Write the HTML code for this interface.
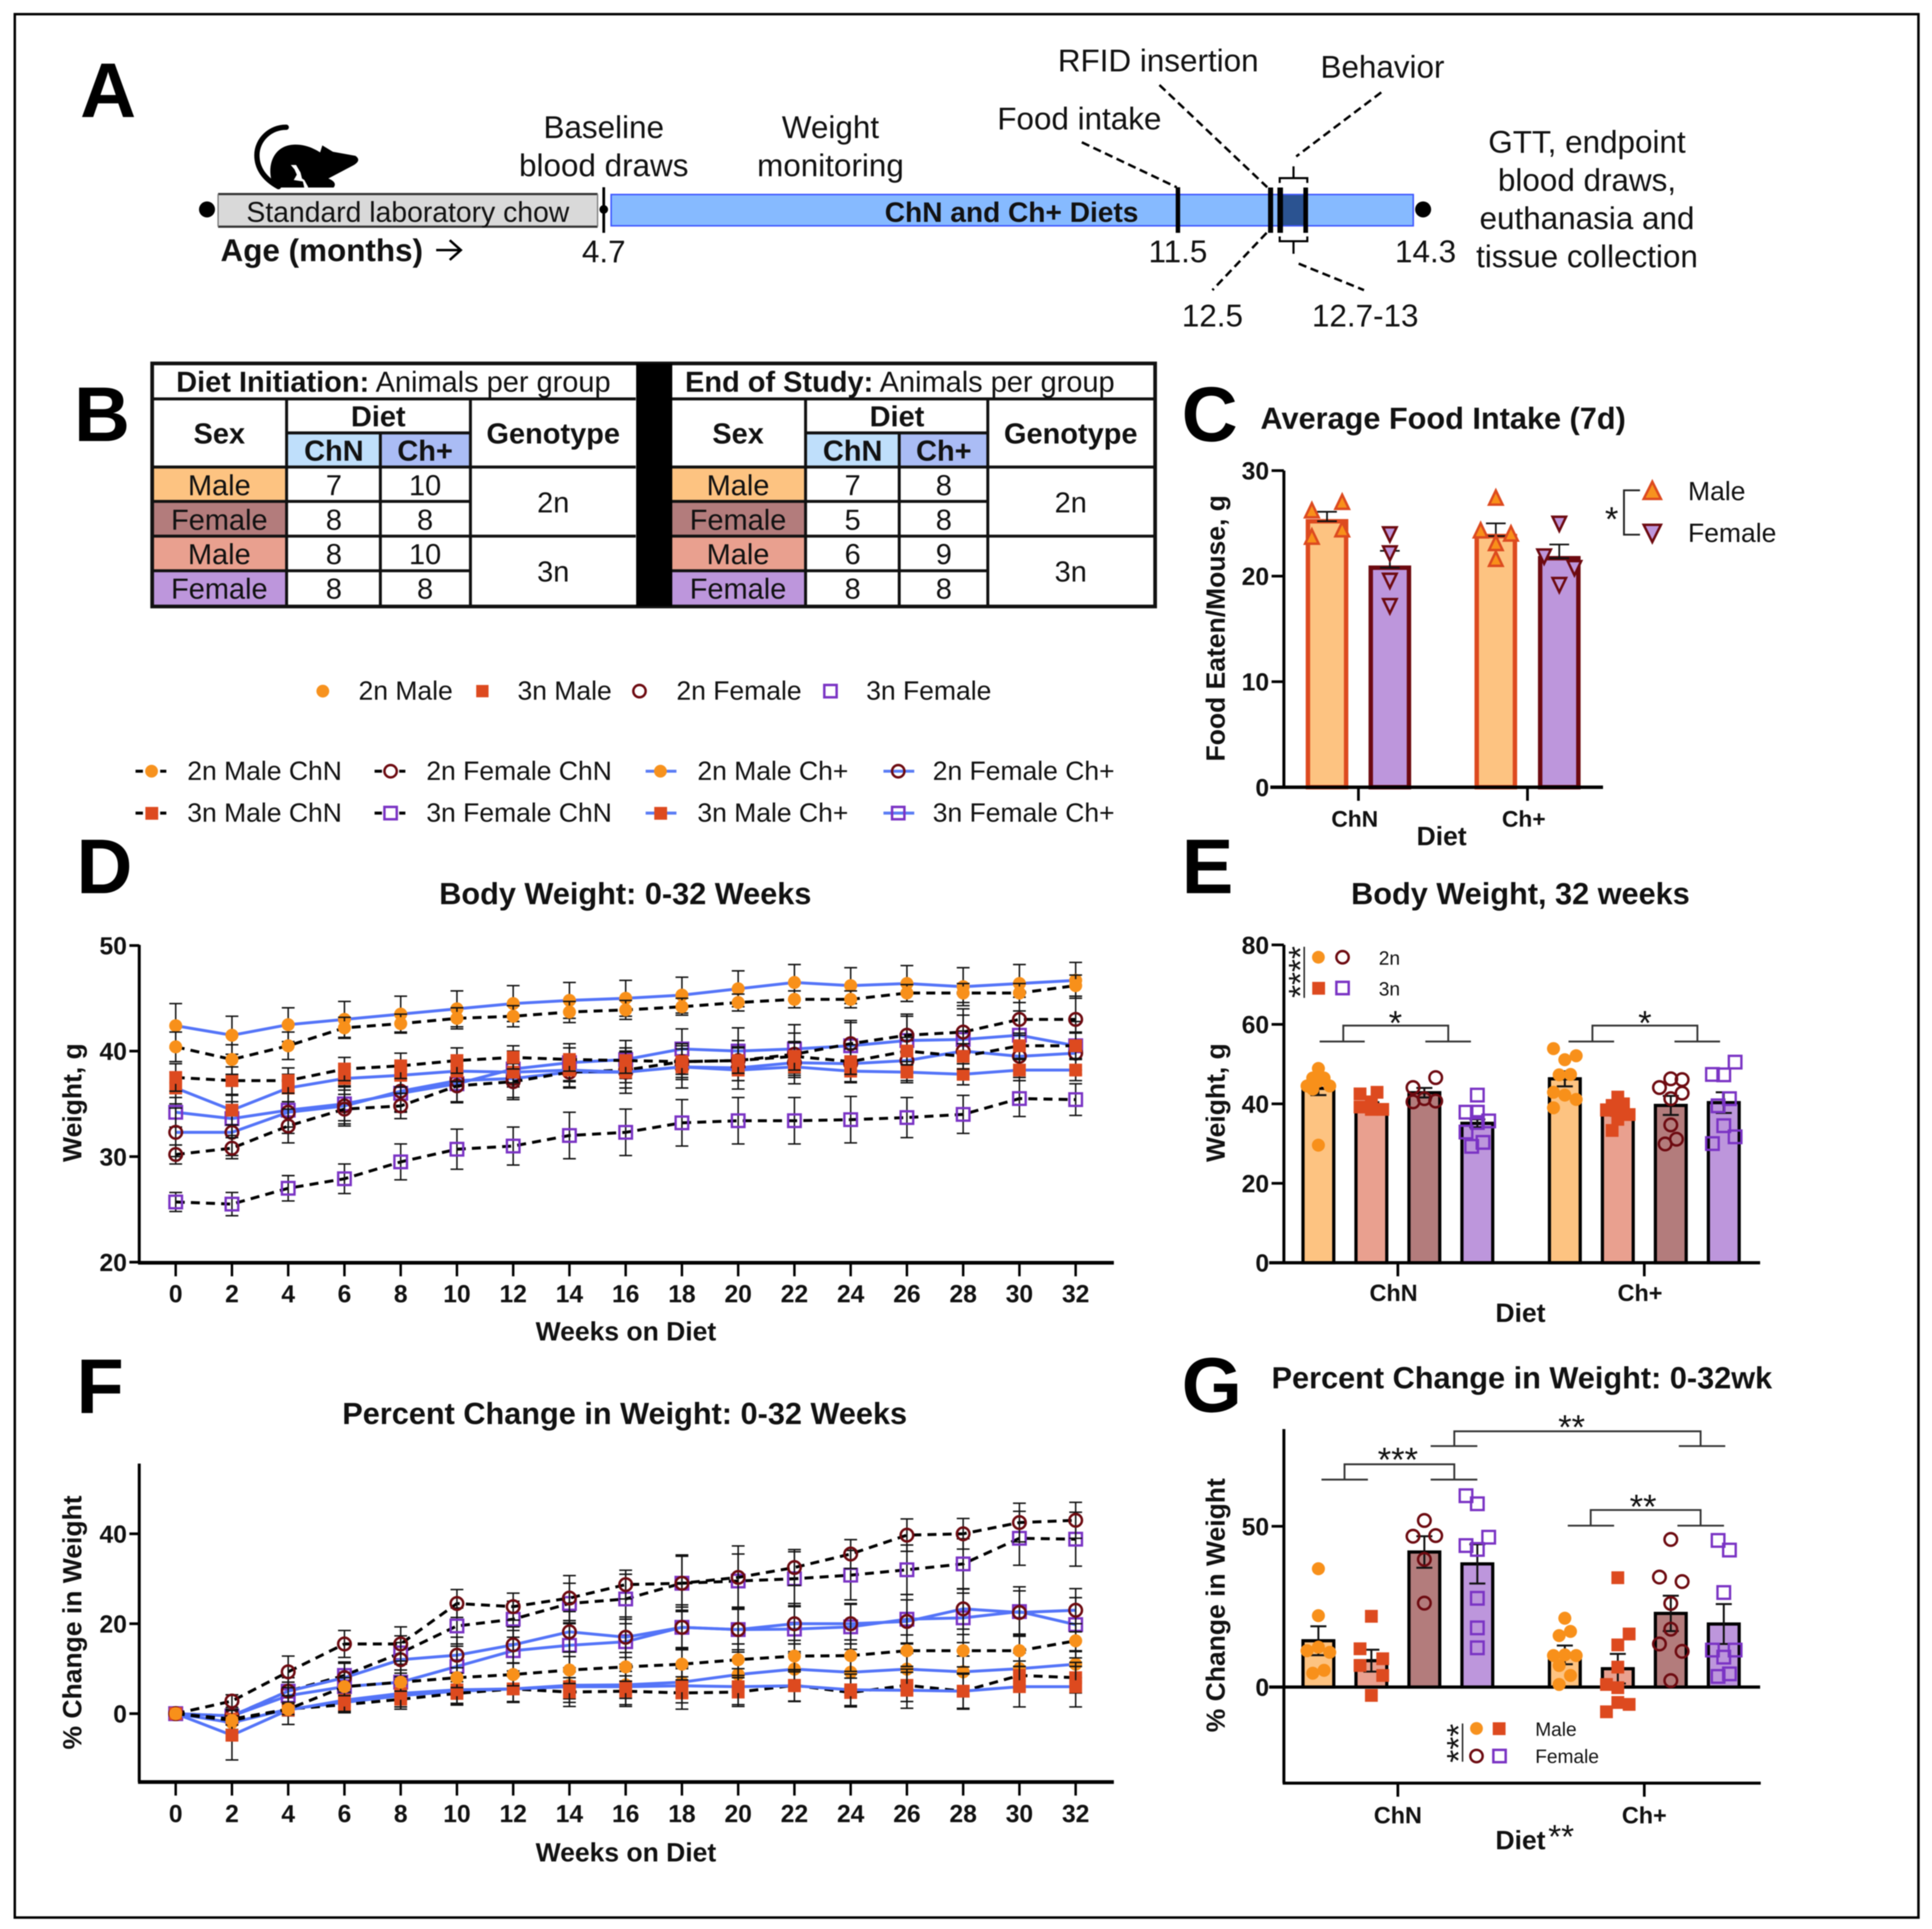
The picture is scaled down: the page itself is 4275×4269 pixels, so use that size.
<!DOCTYPE html>
<html lang="en">
<head>
<meta charset="utf-8">
<title>Diet study figure</title>
<style>
html,body{margin:0;padding:0;background:#fff;width:4275px;height:4269px;overflow:hidden}
svg{display:block;font-family:"Liberation Sans",sans-serif;fill:#111;filter:blur(1px)}
.b{font-weight:bold}
.m{text-anchor:middle}
.e{text-anchor:end}
</style>
</head>
<body>
<svg id="fig" xmlns="http://www.w3.org/2000/svg" width="4275" height="4269" viewBox="0 0 1568 1565.8">
<rect x="0" y="0" width="1568" height="1565.8" fill="#fff"/>
<rect x="12" y="11.5" width="1545" height="1545" fill="none" stroke="#000" stroke-width="2"/>

<!-- Panel letters -->
<g class="b" font-size="63" fill="#000">
<text x="65" y="95">A</text>
<text x="60" y="358">B</text>
<text x="959" y="358">C</text>
<text x="62" y="725">D</text>
<text x="959" y="725">E</text>
<text x="62" y="1147">F</text>
<text x="959" y="1146">G</text>
</g>

<!-- Panel A timeline -->
<g>
<g fill="#000">
<path d="M232.3 103.3 C220 103 208.5 113 208.5 126 C208.5 136 214 145 226 151.5" fill="none" stroke="#000" stroke-width="4.3" stroke-linecap="round"/>
<path d="M220.1 145.5 C217 131 224 118 238.4 117.4 C247 117 254 120 259.8 123.7 L261.6 118 L270.2 123.2 L288.5 126.5 Q293.5 130 287.3 133.9 L266.5 144.9 Q274 148 270.8 152.2 L226.2 152.2 Z"/>
<path d="M236 133.9 L240.3 133.9 L243.9 140 L245.1 144.9 L247 146.1 L250 151.6 L250 152.5 L247 152.5 L245.8 147.3 L238.4 146.1 L240.9 141.8 L239 137.5 Z" fill="#fff"/>
</g>
<circle cx="168" cy="170" r="6.5" fill="#000"/>
<circle cx="1155" cy="170" r="6.5" fill="#000"/>
<rect x="177" y="157.5" width="308" height="26.5" fill="#d9d9d9"/>
<path d="M177 157.5 H485 M177 184 H485" stroke="#333" stroke-width="1.8" fill="none"/>
<path d="M177 157.5 V184 M485 157.5 V184" stroke="#777" stroke-width="1" fill="none"/>
<rect x="496" y="157.9" width="651" height="25.4" fill="#86baff" stroke="#3d55ff" stroke-width="1.2"/>
<rect x="1041" y="158.4" width="17" height="24.4" fill="#2b5391"/>
<circle cx="490" cy="170" r="3.5" fill="#000"/>
<g stroke="#000" fill="none">
<line x1="490" y1="152" x2="490" y2="189" stroke-width="2.2"/>
<line x1="956" y1="152" x2="956" y2="189" stroke-width="3.6"/>
<line x1="1031.2" y1="152.2" x2="1031.2" y2="189" stroke-width="4.1"/>
<line x1="1039" y1="152.2" x2="1039" y2="189" stroke-width="4.5"/>
<line x1="1059.7" y1="152.2" x2="1059.7" y2="189" stroke-width="3.8"/>
<path d="M1038.6 148.5 V144.6 H1061 V148.5 M1049.8 144.6 V135" stroke-width="1.7"/>
<path d="M1038.6 191.9 V195.8 H1061 V191.9 M1049.8 195.8 V206" stroke-width="1.7"/>
</g>
<g stroke="#000" stroke-width="2" stroke-dasharray="6.7 3.7" fill="none">
<line x1="878" y1="115.5" x2="955" y2="152"/>
<line x1="941" y1="69" x2="1028.5" y2="152"/>
<line x1="1121" y1="75" x2="1052" y2="127"/>
<line x1="1028" y1="189" x2="984" y2="235.5"/>
<line x1="1054" y1="214" x2="1107" y2="235.5"/>
</g>
<g font-size="25.5">
<text class="m" x="490" y="112">Baseline</text>
<text class="m" x="490" y="143">blood draws</text>
<text class="m" x="674" y="112">Weight</text>
<text class="m" x="674" y="143">monitoring</text>
<text class="m" x="876" y="105">Food intake</text>
<text class="m" x="940" y="58">RFID insertion</text>
<text class="m" x="1122" y="63">Behavior</text>
<text class="m" x="1288" y="124">GTT, endpoint</text>
<text class="m" x="1288" y="155">blood draws,</text>
<text class="m" x="1288" y="186">euthanasia and</text>
<text class="m" x="1288" y="217">tissue collection</text>
<text class="m" x="490" y="213">4.7</text>
<text class="m" x="956" y="213">11.5</text>
<text class="m" x="1157" y="213">14.3</text>
<text class="m" x="984" y="265">12.5</text>
<text class="m" x="1108" y="265">12.7-13</text>
<text class="b" x="179" y="212">Age (months)</text>
</g>
<path d="M354 203 H373 M365 195 L374 203 L365 211" fill="none" stroke="#000" stroke-width="2"/>
<text class="m" font-size="23" x="331" y="180">Standard laboratory chow</text>
<text class="m b" font-size="22.8" x="821" y="180">ChN and Ch+ Diets</text>
</g>

<!-- Panel B tables -->
<g font-size="23.5">
<rect x="123.5" y="295" width="814" height="197" fill="#fff"/>
<g>
<rect x="124" y="379" width="109" height="28" fill="#fdc381"/>
<rect x="124" y="407" width="109" height="28" fill="#b37c7c"/>
<rect x="124" y="435" width="109" height="28" fill="#e9a08f"/>
<rect x="124" y="463" width="109" height="29" fill="#bd96dc"/>
<rect x="233" y="351" width="76" height="28" fill="#bfdffb"/>
<rect x="309" y="351" width="73" height="28" fill="#aabcf5"/>
<rect x="545" y="379" width="109" height="28" fill="#fdc381"/>
<rect x="545" y="407" width="109" height="28" fill="#b37c7c"/>
<rect x="545" y="435" width="109" height="28" fill="#e9a08f"/>
<rect x="545" y="463" width="109" height="29" fill="#bd96dc"/>
<rect x="654" y="351" width="76" height="28" fill="#bfdffb"/>
<rect x="730" y="351" width="72" height="28" fill="#aabcf5"/>
</g>
<g stroke="#111" stroke-width="2.4" fill="none">
<rect x="123.5" y="295" width="814" height="197.3" stroke-width="3"/>
<path d="M123.5 323.8 H516 M232.6 323.8 V492 M308.7 351.4 V492 M381.8 323.8 V492 M232.6 351.4 H381.8 M123.5 379.1 H516 M232.6 407 H381.8 M123.5 407 H232.6 M123.5 435.2 H516 M123.5 463.3 H381.8"/>
<path d="M545.6 323.8 H937.4 M653.8 323.8 V492 M729.8 351.4 V492 M801.7 323.8 V492 M653.8 351.4 H801.7 M545.6 379.1 H937.4 M545.6 407 H801.7 M545.6 435.2 H937.4 M545.6 463.3 H801.7"/>
</g>
<rect x="516.3" y="295" width="29.3" height="197" fill="#000"/>
<text x="143" y="318"><tspan class="b">Diet Initiation:</tspan> Animals per group</text>
<text x="556" y="318"><tspan class="b">End of Study:</tspan> Animals per group</text>
<g class="b m">
<text x="178" y="360">Sex</text>
<text x="307" y="346">Diet</text>
<text x="271" y="374">ChN</text>
<text x="345" y="374">Ch+</text>
<text x="449" y="360">Genotype</text>
<text x="599" y="360">Sex</text>
<text x="728" y="346">Diet</text>
<text x="692" y="374">ChN</text>
<text x="766" y="374">Ch+</text>
<text x="869" y="360">Genotype</text>
</g>
<g class="m">
<text x="178" y="402">Male</text><text x="178" y="430">Female</text><text x="178" y="458">Male</text><text x="178" y="486">Female</text>
<text x="271" y="402">7</text><text x="345" y="402">10</text>
<text x="271" y="430">8</text><text x="345" y="430">8</text>
<text x="271" y="458">8</text><text x="345" y="458">10</text>
<text x="271" y="486">8</text><text x="345" y="486">8</text>
<text x="449" y="416">2n</text><text x="449" y="472">3n</text>
<text x="599" y="402">Male</text><text x="599" y="430">Female</text><text x="599" y="458">Male</text><text x="599" y="486">Female</text>
<text x="692" y="402">7</text><text x="766" y="402">8</text>
<text x="692" y="430">5</text><text x="766" y="430">8</text>
<text x="692" y="458">6</text><text x="766" y="458">9</text>
<text x="692" y="486">8</text><text x="766" y="486">8</text>
<text x="869" y="416">2n</text><text x="869" y="472">3n</text>
</g>
</g>

<!-- Legends -->
<g font-size="21.5">
<circle cx="262" cy="561" r="5.2" fill="#f7921e"/>
<text x="291" y="568">2n Male</text>
<rect x="386.5" y="556" width="10" height="10" fill="#dd4a1f"/>
<text x="420" y="568">3n Male</text>
<circle cx="519" cy="561" r="5" fill="none" stroke="#6d0a10" stroke-width="2"/>
<text x="549" y="568">2n Female</text>
<rect x="669" y="556" width="10" height="10" fill="none" stroke="#7a33c4" stroke-width="2"/>
<text x="703" y="568">3n Female</text>
</g>
<g font-size="21.5">
<text x="152" y="633">2n Male ChN</text>
<text x="346" y="633">2n Female ChN</text>
<text x="566" y="633">2n Male Ch+</text>
<text x="757" y="633">2n Female Ch+</text>
<text x="152" y="667">3n Male ChN</text>
<text x="346" y="667">3n Female ChN</text>
<text x="566" y="667">3n Male Ch+</text>
<text x="757" y="667">3n Female Ch+</text>
<g stroke="#000" stroke-width="2.4" fill="none">
<path d="M110 626 H116 M130 626 H135 M304 626 H310 M324 626 H329"/>
<path d="M110 660 H116 M130 660 H135 M304 660 H310 M324 660 H329"/>
</g>
<g stroke="#5a7cf5" stroke-width="2.4" fill="none">
<path d="M524 626 H549 M717 626 H742"/>
<path d="M524 660 H549 M717 660 H742"/>
</g>
<circle cx="123" cy="626" r="5.2" fill="#f7921e"/>
<rect x="118" y="655" width="10.4" height="10.4" fill="#dd4a1f"/>
<circle cx="317" cy="626" r="5" fill="none" stroke="#6d0a10" stroke-width="2"/>
<rect x="312" y="655" width="10" height="10" fill="none" stroke="#7a33c4" stroke-width="2"/>
<circle cx="536" cy="626" r="5.2" fill="#f7921e"/>
<rect x="531" y="655" width="10.4" height="10.4" fill="#dd4a1f"/>
<circle cx="729" cy="626" r="5" fill="none" stroke="#6d0a10" stroke-width="2"/>
<rect x="724" y="655" width="10" height="10" fill="none" stroke="#7a33c4" stroke-width="2"/>
</g>

<!-- Titles and axis labels -->
<g class="b" font-size="24.9">
<text x="1023" y="348">Average Food Intake (7d)</text>
<text class="m" x="507.5" y="734">Body Weight: 0-32 Weeks</text>
<text class="m" x="1234" y="734">Body Weight, 32 weeks</text>
<text class="m" x="507" y="1156">Percent Change in Weight: 0-32 Weeks</text>
<text x="1032" y="1127">Percent Change in Weight: 0-32wk</text>
</g>
<g class="b m" font-size="21.5">
<text transform="translate(994,510) rotate(-90)">Food Eaten/Mouse, g</text>
<text transform="translate(66,895) rotate(-90)">Weight, g</text>
<text transform="translate(994,895) rotate(-90)">Weight, g</text>
<text transform="translate(66,1317) rotate(-90)">% Change in Weight</text>
<text transform="translate(994,1303) rotate(-90)">% Change in Weight</text>
<text x="508" y="1088">Weeks on Diet</text>
<text x="508" y="1511">Weeks on Diet</text>
<text x="1170" y="686">Diet</text>
<text x="1234" y="1073">Diet</text>
<text x="1234" y="1501">Diet</text>
</g>
<text class="m" font-size="27" x="1267" y="1500">**</text>

<!-- Panel C annotations -->
<g font-size="21.5">
<path d="M1331 398 H1318 V434 H1331" fill="none" stroke="#222" stroke-width="1.5"/>
<text class="m" font-size="28" x="1308" y="431">*</text>
<path d="M1341 391 L1348 405 H1334 Z" fill="#f7921e" stroke="#dd4a1f" stroke-width="2"/>
<path d="M1341 440 L1348 426 H1334 Z" fill="#bd96dc" stroke="#6d0a10" stroke-width="2"/>
<text x="1370" y="406">Male</text>
<text x="1370" y="440">Female</text>
</g>
<g id="chart-c"></g>
<g id="chart-d"></g>
<g id="chart-e"></g>
<g id="chart-f"></g>
<g id="chart-g"></g>

<!-- Panel E annotations -->
<g>
<path d="M1071 845.4 H1107.6 M1156.8 845.4 H1193.8 M1090.2 845.4 V832.5 H1175.4 V845.4" fill="none" stroke="#333" stroke-width="1.5"/>
<path d="M1273 845.4 H1310 M1359 845.4 H1396 M1292.4 845.4 V832.5 H1377.6 V845.4" fill="none" stroke="#333" stroke-width="1.5"/>
<text class="m" font-size="28" x="1132.5" y="840">*</text>
<text class="m" font-size="28" x="1335" y="840">*</text>
<text class="m" font-size="27" transform="translate(1064.5,789) rotate(-90)">****</text>
<line x1="1058.5" y1="768.5" x2="1058.5" y2="810" stroke="#222" stroke-width="1.2"/>
<circle cx="1070" cy="777" r="5.2" fill="#f7921e"/>
<circle cx="1089.6" cy="777" r="5" fill="none" stroke="#6d0a10" stroke-width="2"/>
<rect x="1065" y="797" width="10.4" height="10.4" fill="#dd4a1f"/>
<rect x="1084.6" y="797" width="10" height="10" fill="none" stroke="#7a33c4" stroke-width="2"/>
<text font-size="15.5" x="1119" y="783">2n</text>
<text font-size="15.5" x="1119" y="808">3n</text>
</g>

<!-- Panel G annotations -->
<g>
<path d="M1161.1 1173.8 H1199 M1362.5 1173.8 H1400.2 M1180.3 1173.8 V1161.8 H1380.2 V1173.8" fill="none" stroke="#333" stroke-width="1.5"/>
<path d="M1072.5 1201 H1110.2 M1161.1 1201 H1199 M1091.2 1201 V1188.6 H1180.3 V1201" fill="none" stroke="#333" stroke-width="1.5"/>
<path d="M1272.4 1238.4 H1310 M1361.4 1238.4 H1399.2 M1291 1238.4 V1225.7 H1380.2 V1238.4" fill="none" stroke="#333" stroke-width="1.5"/>
<text class="m" font-size="28" x="1275.5" y="1168">**</text>
<text class="m" font-size="28" x="1134.5" y="1194.5">***</text>
<text class="m" font-size="28" x="1333.5" y="1232.5">**</text>
<text class="m" font-size="27" transform="translate(1193,1415) rotate(-90)">***</text>
<line x1="1187" y1="1399" x2="1187" y2="1430" stroke="#222" stroke-width="1.2"/>
<circle cx="1198.3" cy="1403" r="5.2" fill="#f7921e"/>
<rect x="1211.5" y="1398" width="10.4" height="10.4" fill="#dd4a1f"/>
<circle cx="1198.3" cy="1425.4" r="5" fill="none" stroke="#6d0a10" stroke-width="2"/>
<rect x="1212" y="1420.4" width="10" height="10" fill="none" stroke="#7a33c4" stroke-width="2"/>
<text font-size="15.5" x="1246" y="1409">Male</text>
<text font-size="15.5" x="1246" y="1431">Female</text>
</g>
</svg>

<script>
// ===== Panel D / F shared categories =====
const weekTicks = [0,2,4,6,8,10,12,14,16,18,20,22,24,26,28,30,32];

// ===== Panel D: Body weight means =====
const weightTicks = [20,30,40,50];
const w2nMaleChN   = [40.4,39.2,40.5,42.2,42.6,43.1,43.3,43.7,43.9,44.2,44.6,44.9,44.9,45.5,45.5,45.5,46.2];
const w2nFemaleChN = [30.2,30.8,32.9,34.5,34.8,36.7,37.1,38.0,38.2,39.0,39.1,39.7,40.7,41.5,41.8,43.0,43.0];
const w3nMaleChN   = [37.5,37.2,37.2,38.3,38.6,39.1,39.4,39.2,39.1,39.0,39.1,39.5,39.0,40.0,39.5,40.5,40.5];
const w3nFemaleChN = [25.7,25.5,27.0,27.9,29.5,30.7,31.0,32.0,32.3,33.2,33.4,33.4,33.5,33.7,34.0,35.5,35.4];
const w2nMaleCh    = [42.4,41.5,42.5,43.0,43.5,44.0,44.5,44.8,45.0,45.3,45.9,46.5,46.2,46.4,46.1,46.4,46.7];
const w2nFemaleCh  = [32.3,32.3,34.2,34.8,36.2,37.2,37.4,38.0,38.0,38.5,38.4,38.9,38.8,39.1,40.0,39.5,39.8];
const w3nMaleCh    = [36.5,34.4,36.5,37.4,37.7,38.1,38.0,38.2,38.0,38.5,38.2,38.5,38.1,38.0,37.8,38.2,38.2];
const w3nFemaleCh  = [34.2,33.6,34.4,35.0,36.0,36.9,38.3,38.9,39.2,40.2,40.0,40.2,40.5,41.0,41.1,41.5,40.5];
// Panel D: standard errors
const e2nMaleChN   = [1.4,1.4,1.3,1.0,0.9,1.0,1.0,1.0,0.9,0.8,0.8,0.8,0.8,0.8,0.9,0.9,1.0];
const e2nFemaleChN = [0.9,1.0,1.6,1.4,1.2,1.6,1.7,1.4,1.7,1.7,1.9,2.0,2.0,2.0,2.2,2.1,2.2];
const e3nMaleChN   = [1.3,1.3,1.2,1.1,1.2,1.2,1.1,1.1,1.2,1.2,1.2,1.3,1.2,1.3,1.2,1.2,1.2];
const e3nFemaleChN = [0.9,1.1,1.2,1.4,1.7,1.9,1.8,2.2,2.2,2.2,2.2,2.2,2.2,1.9,1.8,1.7,1.5];
const e2nMaleCh    = [2.1,1.8,1.6,1.7,1.7,1.7,1.7,1.7,1.7,1.7,1.7,1.7,1.7,1.7,1.8,1.8,1.7];
const e2nFemaleCh  = [2.3,2.2,2.0,1.9,2.0,2.0,1.8,1.5,2.0,2.0,2.0,2.0,1.8,1.9,1.9,2.0,2.0];
const e3nMaleCh    = [1.5,1.4,1.3,1.1,1.1,1.0,1.0,1.0,1.0,1.0,1.0,1.0,1.0,1.0,1.0,1.0,1.0];
const e3nFemaleCh  = [1.4,1.6,1.6,1.6,1.7,1.7,1.7,1.8,1.8,1.9,2.2,2.3,2.4,2.3,2.3,2.3,2.3];

// ===== Panel F: Percent change means =====
const percentTicks = [0,20,40];
const p2nMaleChN   = [0,-1.5,1.0,6.0,7.0,8.0,8.7,9.7,10.4,11.0,12.0,12.8,12.9,14.0,14.0,14.0,16.2];
const p2nFemaleChN = [0,2.8,9.3,15.5,15.5,24.5,23.8,25.7,28.7,29.0,30.3,32.5,35.5,39.7,40.0,42.5,43.0];
const p3nMaleChN   = [0,-1.2,1.0,2.0,3.2,4.5,5.5,4.8,5.0,4.6,4.8,6.3,4.7,6.3,5.0,8.5,8.0];
const p3nFemaleChN = [0,-0.5,5.0,8.5,13.5,19.5,21.0,24.5,25.5,29.0,29.5,30.0,30.8,32.0,33.3,39.0,38.8];
const p2nMaleCh    = [0,-2.0,1.0,2.5,4.0,5.0,5.5,6.3,6.4,7.0,8.7,9.9,9.2,9.9,9.3,10.0,11.0];
const p2nFemaleCh  = [0,-0.5,5.0,8.0,12.0,13.0,15.3,18.2,17.0,19.2,18.7,20.0,20.0,20.5,23.3,22.5,23.0];
const p3nMaleCh    = [0,-4.8,0.8,3.0,4.5,5.3,5.5,6.0,6.0,6.2,6.0,6.2,5.3,5.2,5.0,6.0,6.0];
const p3nFemaleCh  = [0,-0.5,4.0,6.0,7.0,10.5,14.0,15.2,16.0,19.2,18.7,18.8,19.3,21.0,21.3,22.7,19.8];
// Panel F: standard errors
const pe2nMaleChN   = [0,1.0,1.2,2.0,2.0,2.2,2.5,3.0,3.2,3.5,3.5,3.5,3.5,3.5,3.6,3.5,3.8];
const pe2nFemaleChN = [0,1.4,3.5,3.0,3.8,3.1,3.0,5.0,3.2,6.3,7.0,4.0,3.2,3.6,3.4,4.3,4.0];
const pe3nMaleChN   = [0,1.2,1.5,1.8,2.2,2.6,2.8,3.2,3.4,3.6,3.2,3.5,3.2,3.6,3.8,3.2,3.4];
const pe3nFemaleChN = [0,1.2,3.0,3.0,3.8,4.0,4.0,4.5,5.5,6.0,6.0,6.0,5.5,5.5,5.6,6.0,6.0];
const pe2nMaleCh    = [0,1.5,1.5,1.8,2.5,3.0,3.0,3.0,3.0,3.4,3.5,3.5,3.5,3.5,3.5,3.5,3.0];
const pe2nFemaleCh  = [0,1.5,3.0,3.2,3.8,4.0,4.0,4.5,4.5,4.5,4.5,4.5,4.5,4.8,4.5,4.8,4.8];
const pe3nMaleCh    = [0,5.5,3.2,2.5,3.0,3.0,3.0,3.5,4.0,3.8,4.0,3.5,3.5,4.0,4.0,4.5,4.5];
const pe3nFemaleCh  = [0,1.5,3.0,3.2,4.0,4.5,4.5,5.0,5.0,5.0,5.0,5.0,5.0,5.5,5.5,5.5,6.0];

// ===== Panel C: Food intake =====
const foodTicks = [0,10,20,30];
const foodCategories = ['ChN','Ch+'];
const foodMeans = [25.2,20.8,23.8,21.7];
const foodErrors = [0.9,1.6,1.2,1.3];
const foodMaleChN = [26.1,26.9,23.6,24.3];
const foodMaleChNSlots = [-1,1,-1,1];
const foodFemaleChN = [24.1,22.3,19.7,17.3];
const foodFemaleChNSlots = [0,0,0,0];
const foodMaleCh = [27.3,24.2,23.9,23.0,21.5];
const foodMaleChSlots = [0,-1,1,0,0];
const foodFemaleCh = [25.1,22.0,20.9,19.3];
const foodFemaleChSlots = [0,-1,1,0];

// ===== Panel E: Body weight at 32 weeks =====
const e32Ticks = [0,20,40,60,80];
const e32Categories = ['ChN','Ch+'];
const e32Means = [43.9,39.6,42.8,35.1,46.3,38.0,39.6,40.3];
const e32Errors = [1.7,0.8,1.2,1.0,1.9,1.0,2.4,2.6];
const e32Points = [
  [48.9,46.5,46.5,45.7,44.5,44.5,43.7,29.6],
  [42.5,42.9,40.5,39.2,38.6,38.6],
  [46.6,44.1,41.3,40.5,40.7],
  [42.2,37.9,37.9,35.7,35.3,32.9,30.3,29.3],
  [53.9,51.1,52.1,47.3,47.4,42.9,42.2,41.1,39.0],
  [41.7,40.0,38.5,38.1,37.3,38.4,36.1,33.3,39.6],
  [46.3,46.1,44.1,42.7,41.3,34.7,31.1,29.9],
  [50.5,47.4,47.3,41.3,39.5,34.5,31.7,30.0]
];
const e32Slots = [
  [0,-1,1,0,-2,2,-1,0],
  [-2,1,0,-2,0,2],
  [2,-2,0,-2,2],
  [0,-2,0,2,0,-2,1,-1],
  [-2,0,2,-1,1,-2,0,2,-2],
  [0,1,-2,0,2,-2,0,-1,-1],
  [0,2,-2,2,0,0,1,-1],
  [2,-2,0,1,-1,0,2,-2]
];

// ===== Panel G: Percent change at 32 weeks =====
const g32Ticks = [0,50];
const g32Categories = ['ChN','Ch+'];
const g32Means = [14.4,8.2,42.0,38.3,10.0,5.7,22.9,19.6];
const g32Errors = [4.5,3.4,4.9,6.1,2.9,4.6,5.5,6.2];
const g32Points = [
  [36.8,22.2,11.3,12.4,10.8,4.3,5.2],
  [22.0,11.9,8.8,6.7,3.6,-2.6],
  [51.8,46.9,47.1,39.7,26.1],
  [59.5,57.0,44.0,46.6,42.8,27.6,18.4,12.2],
  [21.4,17.3,16.0,9.8,10.0,9.8,6.7,3.6,0.8],
  [34.0,16.5,13.1,6.2,0.8,-0.2,-4.8,-5.4,-7.7],
  [45.9,34.2,32.8,26.0,18.0,13.4,11.1,2.0],
  [45.6,42.6,29.4,11.5,11.5,9.3,4.1,3.3]
];
const g32Slots = [
  [0,0,-2,0,2,-1,1],
  [0,-2,2,-2,2,0],
  [0,-2,2,0,0],
  [-2,0,-2,2,0,0,0,0],
  [0,1,-1,-2,0,2,-1,1,-1],
  [0,2,0,0,-2,0,0,2,-2],
  [0,-2,2,0,0,-2,2,0],
  [-1,1,0,-2,2,0,1,-1]
];

const NS = 'http://www.w3.org/2000/svg';
const ORANGE = '#f8901a', RED = '#dd4a1f', MAROON = '#6d0a10', PURPLE = '#7a33c4';
const BLUE = '#5474f8';
const BAR_FILLS = ['#fdc381','#e9a08f','#b37c7c','#bd96dc'];
const SERIES_STYLE = {
  m2: {fill: ORANGE, stroke: 'none', shape: 'circle'},
  m3: {fill: RED, stroke: 'none', shape: 'square'},
  f2: {fill: 'none', stroke: MAROON, shape: 'circle'},
  f3: {fill: 'none', stroke: PURPLE, shape: 'square'}
};

function mk(parent, tag, name, attrs) {
  const el = document.createElementNS(NS, tag);
  
  
  for (const k in attrs) el.setAttribute(k, attrs[k]);
  parent.appendChild(el);
  return el;
}
function label(parent, name, str, x, y, size, bold, anchor) {
  const el = mk(parent, 'text', name, {x: x, y: y, 'font-size': size, 'text-anchor': anchor});
  if (bold) el.setAttribute('font-weight', 'bold');
  el.textContent = str;
  return el;
}
function linear(d0, d1, r0, r1) {
  return v => r0 + (v - d0) * (r1 - r0) / (d1 - d0);
}
function marker(parent, name, style, x, y) {
  if (style.shape === 'circle') {
    if (style.stroke === 'none') {
      return mk(parent, 'circle', name, {cx: x, cy: y, r: 5.3, fill: style.fill});
    }
    return mk(parent, 'circle', name, {cx: x, cy: y, r: 5.1, fill: 'none', stroke: style.stroke, 'stroke-width': 2});
  }
  if (style.stroke === 'none') {
    return mk(parent, 'rect', name, {x: x - 5.2, y: y - 5.2, width: 10.4, height: 10.4, fill: style.fill});
  }
  return mk(parent, 'rect', name, {x: x - 5.1, y: y - 5.1, width: 10.2, height: 10.2, fill: 'none', stroke: style.stroke, 'stroke-width': 1.9});
}
function errorBar(parent, name, x, y0, y1, cap, w) {
  return mk(parent, 'path', name, {
    d: 'M' + (x - cap) + ' ' + y0 + ' H' + (x + cap) + ' M' + (x - cap) + ' ' + y1 + ' H' + (x + cap) + ' M' + x + ' ' + y0 + ' V' + y1,
    fill: 'none', stroke: '#111', 'stroke-width': w
  });
}
function yAxis(g, y, ticks, axisX, topY, botY, tickLen, size) {
  mk(g, 'line', 'y-axis-line', {x1: axisX, y1: topY, x2: axisX, y2: botY, stroke: '#000', 'stroke-width': 2.4});
  ticks.forEach(t => {
    mk(g, 'line', 'y-axis-tick', {x1: axisX - tickLen, y1: y(t), x2: axisX, y2: y(t), stroke: '#000', 'stroke-width': 2.2});
    label(g, 'y-tick-label', String(t), axisX - tickLen - 2, y(t) + size * 0.36, size, true, 'end');
  });
}

function lineChart(id, series, weeks, ticks, yRange, pxRange, axisBottom, topY, labelY) {
  const g = document.getElementById(id);
  const x = linear(0, 32, 142.6, 873);
  const y = linear(yRange[0], yRange[1], pxRange[0], pxRange[1]);
  yAxis(g, y, ticks, 113, topY, axisBottom, 8, 20);
  mk(g, 'line', 'x-axis-line', {x1: 112, y1: axisBottom, x2: 904, y2: axisBottom, stroke: '#000', 'stroke-width': 3});
  weeks.forEach(w => {
    mk(g, 'line', 'x-axis-tick', {x1: x(w), y1: axisBottom, x2: x(w), y2: axisBottom + 11, stroke: '#000', 'stroke-width': 2});
    label(g, 'x-tick-label', String(w), x(w), labelY, 20, true, 'middle');
  });
  series.forEach(s => {
    const d = s.vals.map((v, i) => (i ? 'L' : 'M') + x(weeks[i]) + ' ' + y(v)).join(' ');
    const attrs = s.dashed
      ? {d: d, fill: 'none', stroke: '#000', 'stroke-width': 2.4, 'stroke-dasharray': '7.3 5'}
      : {d: d, fill: 'none', stroke: BLUE, 'stroke-width': 2.4};
    mk(g, 'path', 'line-' + s.name, attrs);
    s.vals.forEach((v, i) => {
      if (s.errs[i] > 0) errorBar(g, 'error-bar', x(weeks[i]), y(v - s.errs[i]), y(v + s.errs[i]), 5.2, 1.2);
    });
    s.vals.forEach((v, i) => {
      marker(g, 'point-' + s.name, SERIES_STYLE[s.kind], x(weeks[i]), y(v));
    });
  });
}

lineChart('chart-d', [
  {name: '3n-female-chplus', kind: 'f3', dashed: false, vals: w3nFemaleCh, errs: e3nFemaleCh},
  {name: '2n-female-chplus', kind: 'f2', dashed: false, vals: w2nFemaleCh, errs: e2nFemaleCh},
  {name: '3n-female-chn', kind: 'f3', dashed: true, vals: w3nFemaleChN, errs: e3nFemaleChN},
  {name: '2n-female-chn', kind: 'f2', dashed: true, vals: w2nFemaleChN, errs: e2nFemaleChN},
  {name: '2n-male-chplus', kind: 'm2', dashed: false, vals: w2nMaleCh, errs: e2nMaleCh},
  {name: '3n-male-chplus', kind: 'm3', dashed: false, vals: w3nMaleCh, errs: e3nMaleCh},
  {name: '3n-male-chn', kind: 'm3', dashed: true, vals: w3nMaleChN, errs: e3nMaleChN},
  {name: '2n-male-chn', kind: 'm2', dashed: true, vals: w2nMaleChN, errs: e2nMaleChN}
], weekTicks, weightTicks, [20, 50], [1024.5, 767.5], 1025, 767, 1057);

lineChart('chart-f', [
  {name: '3n-female-chplus', kind: 'f3', dashed: false, vals: p3nFemaleCh, errs: pe3nFemaleCh},
  {name: '3n-female-chn', kind: 'f3', dashed: true, vals: p3nFemaleChN, errs: pe3nFemaleChN},
  {name: '2n-female-chplus', kind: 'f2', dashed: false, vals: p2nFemaleCh, errs: pe2nFemaleCh},
  {name: '2n-female-chn', kind: 'f2', dashed: true, vals: p2nFemaleChN, errs: pe2nFemaleChN},
  {name: '2n-male-chplus', kind: 'm2', dashed: false, vals: p2nMaleCh, errs: pe2nMaleCh},
  {name: '3n-male-chn', kind: 'm3', dashed: true, vals: p3nMaleChN, errs: pe3nMaleChN},
  {name: '3n-male-chplus', kind: 'm3', dashed: false, vals: p3nMaleCh, errs: pe3nMaleCh},
  {name: '2n-male-chn', kind: 'm2', dashed: true, vals: p2nMaleChN, errs: pe2nMaleChN}
], weekTicks, percentTicks, [0, 40], [1391, 1245], 1446.5, 1188, 1479);

// Panel C
(function () {
  const g = document.getElementById('chart-c');
  const y = linear(0, 30, 639, 382);
  const centers = [1077, 1128, 1214, 1265.5];
  const fills = ['#fdc381', '#bd96dc', '#fdc381', '#bd96dc'];
  const strokes = [RED, MAROON, RED, MAROON];
  const sets = [
    [foodMaleChN, foodMaleChNSlots],
    [foodFemaleChN, foodFemaleChNSlots],
    [foodMaleCh, foodMaleChSlots],
    [foodFemaleCh, foodFemaleChSlots]
  ];
  yAxis(g, y, foodTicks, 1042, 382, 639, 10, 20);
  foodMeans.forEach((v, i) => {
    mk(g, 'rect', 'food-bar', {x: centers[i] - 15.5, y: y(v), width: 31, height: y(0) - y(v), fill: fills[i], stroke: strokes[i], 'stroke-width': 3.6});
    errorBar(g, 'food-error-bar', centers[i], y(v), y(v + foodErrors[i]), 8, 1.4);
  });
  sets.forEach((set, i) => {
    set[0].forEach((v, j) => {
      const cx = centers[i] + set[1][j] * 12.3;
      const cy = y(v);
      const dir = i % 2 ? 1 : -1;
      mk(g, 'path', 'food-point', {
        d: 'M' + cx + ' ' + (cy + dir * 7) + ' L' + (cx + 5.5) + ' ' + (cy - dir * 4.5) + ' H' + (cx - 5.5) + ' Z',
        fill: i % 2 ? '#bd96dc' : ORANGE, stroke: strokes[i], 'stroke-width': 2
      });
    });
  });
  mk(g, 'line', 'x-axis-line', {x1: 1031, y1: 639, x2: 1301, y2: 639, stroke: '#000', 'stroke-width': 2.8});
  foodCategories.forEach((c, i) => {
    const tx = 1102.5 + i * 137.2;
    mk(g, 'line', 'x-axis-tick', {x1: tx, y1: 639, x2: tx, y2: 650, stroke: '#000', 'stroke-width': 2.2});
    label(g, 'x-tick-label', c, tx - 3, 671, 18.5, true, 'middle');
  });
})();

function barPanel(id, ticks, cats, means, errs, points, slots, y, axisY, topY, botY, labelY, labelDx, keepFrame) {
  const g = document.getElementById(id);
  const kinds = ['m2', 'm3', 'f2', 'f3', 'm2', 'm3', 'f2', 'f3'];
  const center = i => (i < 4 ? 1134.5 : 1334.5) + ((i % 4) - 1.5) * 43;
  yAxis(g, y, ticks, 1042, topY, botY, 10, 20);
  means.forEach((v, i) => {
    mk(g, 'rect', 'bar', {x: center(i) - 12.5, y: y(v), width: 25, height: y(0) - y(v), fill: BAR_FILLS[i % 4], stroke: '#000', 'stroke-width': 2.6});
    errorBar(g, 'bar-error', center(i), y(v - errs[i]), y(v + errs[i]), 6.5, 1.6);
  });
  mk(g, 'line', 'zero-line', {x1: 1030, y1: axisY, x2: 1428.5, y2: axisY, stroke: '#000', 'stroke-width': 2.6});
  if (keepFrame) {
    mk(g, 'line', 'x-axis-line', {x1: 1041, y1: botY, x2: 1429, y2: botY, stroke: '#000', 'stroke-width': 2.4});
  }
  points.forEach((set, i) => {
    set.forEach((v, j) => {
      marker(g, 'bar-point', SERIES_STYLE[kinds[i]], center(i) + slots[i][j] * 4.6, y(v));
    });
  });
  cats.forEach((c, i) => {
    const tx = 1134.5 + i * 200;
    mk(g, 'line', 'x-axis-tick', {x1: tx, y1: botY, x2: tx, y2: botY + 11, stroke: '#000', 'stroke-width': 2.2});
    label(g, 'x-tick-label', c, tx + labelDx, labelY, 19, true, 'middle');
  });
}
barPanel('chart-e', e32Ticks, e32Categories, e32Means, e32Errors, e32Points, e32Slots,
  linear(0, 80, 1025, 767), 1025, 767, 1025, 1056, -3.5, false);
barPanel('chart-g', g32Ticks, g32Categories, g32Means, g32Errors, g32Points, g32Slots,
  linear(0, 50, 1369.4, 1238.9), 1369.4, 1160, 1447.4, 1480, 0, true);
</script>
</body>
</html>
